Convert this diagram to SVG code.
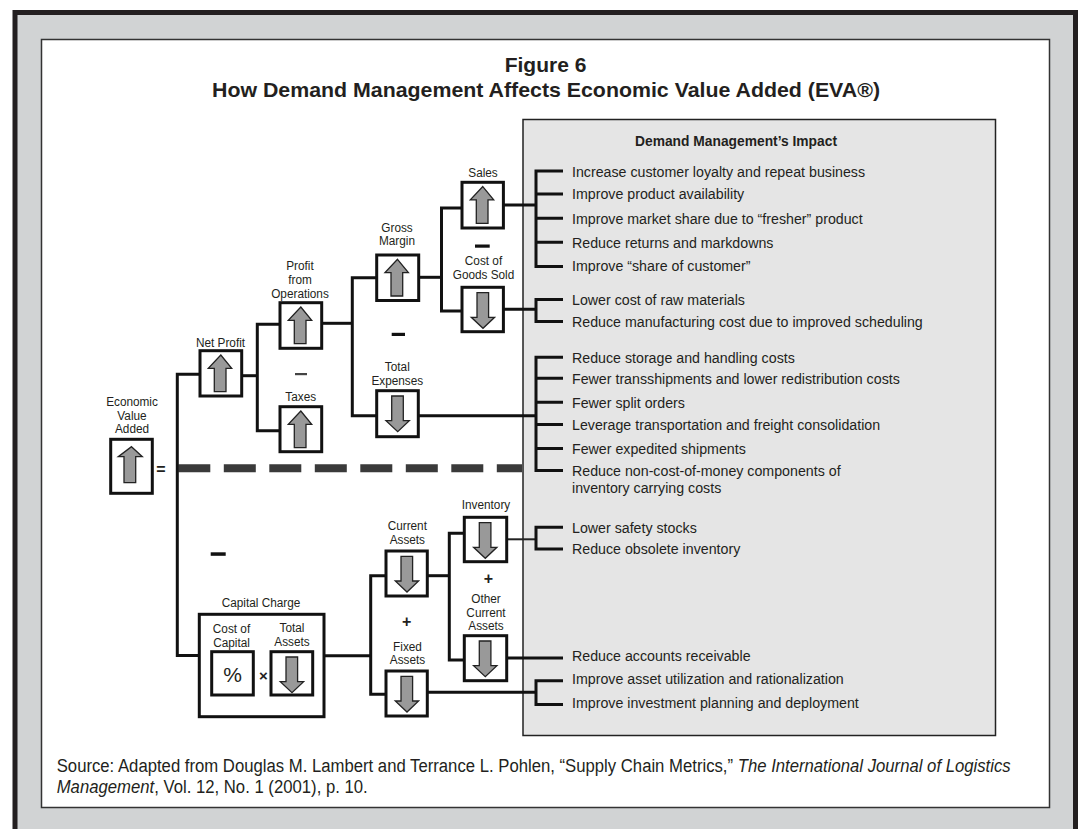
<svg xmlns="http://www.w3.org/2000/svg" xmlns:xlink="http://www.w3.org/1999/xlink" width="1082" height="829" viewBox="0 0 1082 829">
<style>
  text { font-family: "Liberation Sans", Arial, Helvetica, sans-serif; fill: #231f20; }
  .title { font-size: 21px; font-weight: bold; text-anchor: middle; }
  .hdr { font-size: 15px; font-weight: bold; text-anchor: middle; }
  .item { font-size: 15.5px; }
  .lbl { font-size: 13.5px; text-anchor: middle; }
  .src { font-size: 18px; }
  .sym { font-weight: bold; text-anchor: middle; }
  .box { fill: #ffffff; stroke: #111111; stroke-width: 3; }
  .arrow { fill: #999999; stroke: #222222; stroke-width: 1.3; stroke-linejoin: miter; }
  .conn path { fill: none; stroke: #111111; stroke-width: 3; stroke-linejoin: miter; stroke-linecap: butt; }
  .conn path.thin { stroke-width: 2; stroke: #222222; }
  .minus { fill: #111111; }
</style>
<defs>
  <path id="up" class="arrow" d="M20.8,4.3 L31.7,17.6 L26,17.6 L26,41 L14.3,41 L14.3,17.6 L8.3,17.6 Z"/>
  <path id="dn" class="arrow" d="M15,5.3 L26.6,5.3 L26.6,30 L32.6,30 L21,41 L9.3,30 L15,30 Z"/>
</defs>

<!-- frame -->
<rect x="0" y="0" width="1082" height="829" fill="#ffffff"/>
<rect x="15" y="12.5" width="1060.5" height="830" fill="#d1d3d4" stroke="#231f20" stroke-width="5"/>
<rect x="41.5" y="39.5" width="1008" height="768" fill="#ffffff" stroke="#333333" stroke-width="1.5"/>

<!-- title -->
<g id="title">
  <text class="title" x="545.5" y="72">Figure 6</text>
  <text class="title" x="546" y="97" textLength="668" lengthAdjust="spacingAndGlyphs">How Demand Management Affects Economic Value Added (EVA®)</text>
</g>

<!-- impact panel -->
<g id="impact-panel">
  <rect x="523" y="119.5" width="472.5" height="616" fill="#e5e5e5" stroke="#222222" stroke-width="1.5"/>
  <text class="hdr" x="736" y="146" textLength="202" lengthAdjust="spacingAndGlyphs">Demand Management’s Impact</text>
</g>

<!-- dashed separator -->
<line x1="178.3" y1="468.3" x2="522" y2="468.3" stroke="#3a3a3a" stroke-width="8" stroke-dasharray="32 13.5"/>

<!-- connectors -->
<g id="connectors" class="conn">
  <path d="M200,374.3 H177.3 V655.5 H199.3"/>
  <path d="M241.7,375.7 H257.3"/>
  <path d="M280,324.3 H257.3 V430.7 H280"/>
  <path d="M321.7,323.3 H352.3"/>
  <path d="M376.7,277.7 H352.3 V415.7 H376.7"/>
  <path d="M418.7,277.3 H441.5"/>
  <path d="M462,208 H441.5 V311 H462"/>
  <path d="M503.4,205 H536"/>
  <path d="M563,171 H536 V266.5 H563 M536,194 H563 M536,218.3 H563 M536,242.3 H563"/>
  <path d="M503.4,309.3 H536"/>
  <path d="M563,299.5 H536 V321.5 H563"/>
  <path d="M418.3,415.7 H536"/>
  <path d="M563,357.3 H536 V470.5 H563 M536,378.3 H563 M536,402.3 H563 M536,424.5 H563 M536,448.5 H563"/>
  <path d="M324,655.7 H370.7"/>
  <path d="M386,575.7 H370.7 V694.3 H386"/>
  <path d="M427.3,575.7 H449.3"/>
  <path d="M464.3,533.3 H449.3 V660 H464.3"/>
  <path class="thin" d="M506.7,539.3 H536"/>
  <path d="M563,527.3 H536 V549 H563"/>
  <path d="M506.7,658 H563"/>
  <path d="M427.3,692.3 H536"/>
  <path d="M563,680.7 H536 V704.5 H563"/>
</g>

<!-- nodes -->
<g id="node-eva">
  <text class="lbl" transform="translate(132,406.2) scale(0.874,1)">Economic</text>
  <text class="lbl" transform="translate(132,419.5) scale(0.874,1)">Value</text>
  <text class="lbl" transform="translate(132,432.8) scale(0.874,1)">Added</text>
  <rect class="box" x="110.7" y="439.3" width="41.6" height="54"/>
  <path class="arrow" d="M131.5,446.7 L142.3,456.7 L135.7,456.7 L135.7,482.7 L124,482.7 L124,456.7 L118.3,456.7 Z"/>
  <text class="sym" x="161" y="475" font-size="16">=</text>
</g>

<g id="node-net-profit">
  <text class="lbl" transform="translate(220.5,346.8) scale(0.874,1)">Net Profit</text>
  <rect class="box" x="200" y="350.7" width="41.7" height="45.3"/>
  <use xlink:href="#up" href="#up" x="200" y="350.7"/>
</g>

<g id="node-profit-ops">
  <text class="lbl" transform="translate(300,270.2) scale(0.874,1)">Profit</text>
  <text class="lbl" transform="translate(300,283.8) scale(0.874,1)">from</text>
  <text class="lbl" transform="translate(300,297.8) scale(0.874,1)">Operations</text>
  <rect class="box" x="280" y="302.7" width="41.7" height="45.6"/>
  <use xlink:href="#up" href="#up" x="280" y="302.7"/>
</g>

<g id="node-taxes">
  <rect x="295" y="373" width="12" height="2.2" fill="#444444"/>
  <text class="lbl" transform="translate(300.7,400.5) scale(0.874,1)">Taxes</text>
  <rect class="box" x="280" y="406.7" width="41.7" height="45"/>
  <use xlink:href="#up" href="#up" x="280" y="406.7"/>
</g>

<g id="node-gross-margin">
  <text class="lbl" transform="translate(397,231.6) scale(0.874,1)">Gross</text>
  <text class="lbl" transform="translate(397,245.2) scale(0.874,1)">Margin</text>
  <rect class="box" x="376.7" y="255" width="42" height="45.5"/>
  <use xlink:href="#up" href="#up" x="376.7" y="255"/>
</g>

<g id="node-sales">
  <text class="lbl" transform="translate(483,176.8) scale(0.874,1)">Sales</text>
  <rect class="box" x="462" y="182.3" width="41.4" height="45.7"/>
  <use xlink:href="#up" href="#up" x="462" y="182.3"/>
  <rect class="minus" x="475" y="244.5" width="14.7" height="3.2"/>
</g>

<g id="node-cogs">
  <text class="lbl" transform="translate(483.5,265) scale(0.874,1)">Cost of</text>
  <text class="lbl" transform="translate(483.5,278.8) scale(0.874,1)">Goods Sold</text>
  <rect class="box" x="462" y="287.3" width="41.4" height="44.4"/>
  <use xlink:href="#dn" href="#dn" x="462" y="287.3"/>
</g>

<g id="node-total-expenses">
  <rect class="minus" x="391.7" y="332.8" width="13.3" height="3.2"/>
  <text class="lbl" transform="translate(397.3,371.2) scale(0.874,1)">Total</text>
  <text class="lbl" transform="translate(397.3,385.2) scale(0.874,1)">Expenses</text>
  <rect class="box" x="376.7" y="390.7" width="41.6" height="46"/>
  <use xlink:href="#dn" href="#dn" x="376.7" y="390.7"/>
</g>

<g id="node-capital-charge">
  <rect class="minus" x="210.7" y="552.3" width="15" height="3.5"/>
  <text class="lbl" transform="translate(261,607.2) scale(0.874,1)">Capital Charge</text>
  <rect class="box" x="199.3" y="614.3" width="124.7" height="102.4"/>
  <text class="lbl" transform="translate(231.5,632.8) scale(0.874,1)">Cost of</text>
  <text class="lbl" transform="translate(231.5,647.2) scale(0.874,1)">Capital</text>
  <text class="lbl" transform="translate(292,632.2) scale(0.874,1)">Total</text>
  <text class="lbl" transform="translate(292,646.2) scale(0.874,1)">Assets</text>
  <rect class="box" x="211.7" y="651.7" width="41.6" height="43.3"/>
  <text x="232.5" y="681.5" font-size="21" text-anchor="middle">%</text>
  <text class="sym" x="263.5" y="681" font-size="15">×</text>
  <rect class="box" x="271" y="651.7" width="41.7" height="43.3"/>
  <use xlink:href="#dn" href="#dn" x="271" y="651.7"/>
</g>

<g id="node-current-assets">
  <text class="lbl" transform="translate(407.3,530.2) scale(0.874,1)">Current</text>
  <text class="lbl" transform="translate(407.3,543.5) scale(0.874,1)">Assets</text>
  <rect class="box" x="386" y="551" width="41.3" height="45"/>
  <use xlink:href="#dn" href="#dn" x="386" y="551"/>
  <text class="sym" x="406.7" y="627.4" font-size="16">+</text>
</g>

<g id="node-fixed-assets">
  <text class="lbl" transform="translate(407.5,650.5) scale(0.874,1)">Fixed</text>
  <text class="lbl" transform="translate(407.5,663.8) scale(0.874,1)">Assets</text>
  <rect class="box" x="386" y="671" width="41.3" height="45"/>
  <use xlink:href="#dn" href="#dn" x="386" y="671"/>
</g>

<g id="node-inventory">
  <text class="lbl" transform="translate(486,508.5) scale(0.874,1)">Inventory</text>
  <rect class="box" x="464.3" y="517.3" width="42.4" height="44.4"/>
  <use xlink:href="#dn" href="#dn" x="464.3" y="517.3"/>
  <text class="sym" x="488.3" y="584" font-size="16">+</text>
</g>

<g id="node-other-current-assets">
  <text class="lbl" transform="translate(486,602.8) scale(0.874,1)">Other</text>
  <text class="lbl" transform="translate(486,616.6) scale(0.874,1)">Current</text>
  <text class="lbl" transform="translate(486,630.4) scale(0.874,1)">Assets</text>
  <rect class="box" x="464.3" y="635.7" width="42.4" height="45"/>
  <use xlink:href="#dn" href="#dn" x="464.3" y="635.7"/>
</g>

<!-- impact items -->
<g id="impact-items" transform="translate(572,0) scale(0.918,1)">
  <text class="item" x="0" y="177.2">Increase customer loyalty and repeat business</text>
  <text class="item" x="0" y="199.5">Improve product availability</text>
  <text class="item" x="0" y="223.8">Improve market share due to “fresher” product</text>
  <text class="item" x="0" y="247.8">Reduce returns and markdowns</text>
  <text class="item" x="0" y="271.2">Improve “share of customer”</text>
  <text class="item" x="0" y="305.5">Lower cost of raw materials</text>
  <text class="item" x="0" y="327.2">Reduce manufacturing cost due to improved scheduling</text>
  <text class="item" x="0" y="362.8">Reduce storage and handling costs</text>
  <text class="item" x="0" y="383.8">Fewer transshipments and lower redistribution costs</text>
  <text class="item" x="0" y="407.8">Fewer split orders</text>
  <text class="item" x="0" y="429.8">Leverage transportation and freight consolidation</text>
  <text class="item" x="0" y="453.8">Fewer expedited shipments</text>
  <text class="item" x="0" y="475.8">Reduce non-cost-of-money components of</text>
  <text class="item" x="0" y="493.5">inventory carrying costs</text>
  <text class="item" x="0" y="532.8">Lower safety stocks</text>
  <text class="item" x="0" y="553.8">Reduce obsolete inventory</text>
  <text class="item" x="0" y="661.2">Reduce accounts receivable</text>
  <text class="item" x="0" y="684.5">Improve asset utilization and rationalization</text>
  <text class="item" x="0" y="708.2">Improve investment planning and deployment</text>
</g>

<!-- source -->
<g id="source">
  <text class="src" transform="translate(56.7,771.5) scale(0.928,1)">Source: Adapted from Douglas M. Lambert and Terrance L. Pohlen, “Supply Chain Metrics,” <tspan font-style="italic">The International Journal of Logistics</tspan></text>
  <text class="src" transform="translate(56.7,793) scale(0.928,1)"><tspan font-style="italic">Management</tspan>, Vol. 12, No. 1 (2001), p. 10.</text>
</g>
</svg>
